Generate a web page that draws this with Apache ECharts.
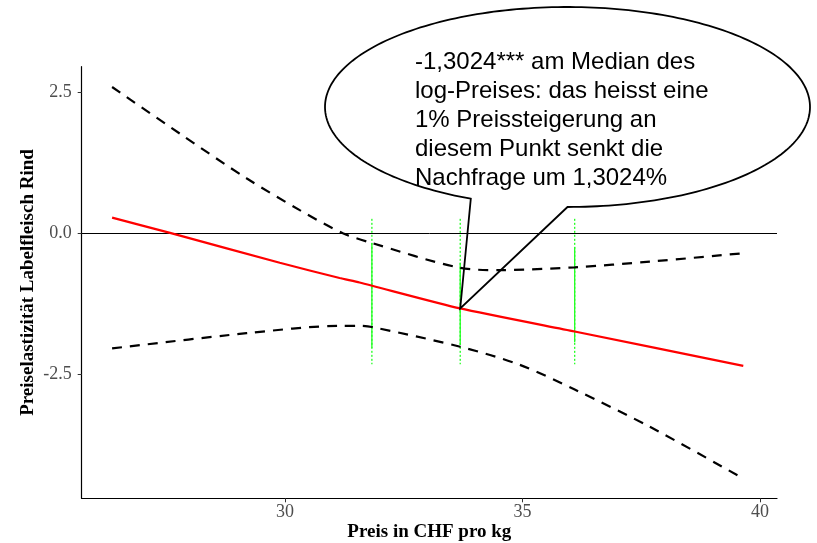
<!DOCTYPE html>
<html><head><meta charset="utf-8">
<script src="https://cdn.jsdelivr.net/npm/echarts@6/dist/echarts.min.js"></script>
<style>html,body{margin:0;padding:0;background:#fff}#c{width:817px;height:543px}</style>
</head><body><div id="c"></div>
<script>
// tick labels
const xTicks = [30, 35, 40];
const yTicks = [-2.5, 0, 2.5];
// fitted elasticity (red line)
const priceFit = [26.36, 27.58, 29.89, 31.15, 31.57, 33.69, 36.10, 39.65];
const elastFit = [0.272, 0, -0.53, -0.80, -0.88, -1.34, -1.75, -2.36];
// upper confidence band
const priceUpper = [26.36, 27.79, 29.19, 30.32, 31.22, 31.83, 33.69, 34.52, 36.10, 37.68, 39.65];
const upper = [2.59, 1.76, 0.97, 0.40, -0.005, -0.18, -0.62, -0.66, -0.61, -0.51, -0.36];
// lower confidence band
const priceLower = [26.36, 29.19, 31.15, 31.57, 31.83, 33.69, 34.94, 36.10, 37.68, 39.65];
const lower = [-2.05, -1.78, -1.65, -1.65, -1.67, -2.02, -2.34, -2.78, -3.44, -4.36];
// quantile markers (green)
const quantPrice = [31.83, 33.69, 36.10];
const quantTop = [0.25, 0.25, 0.25];
const quantBottom = [-2.33, -2.33, -2.33];
const solidTop = [-0.18, -0.53, -0.25];
const solidBottom = [-2.04, -1.99, -1.94];
// callout
const medianPoint = [33.69, -1.34];
const calloutText = '-1,3024*** am Median des\nlog-Preises: das heisst eine\n1% Preissteigerung an\ndiesem Punkt senkt die\nNachfrage um 1,3024%';

const zip = (a, b) => a.map((v, i) => [v, b[i]]);
const serif = '"Liberation Serif", "Times New Roman", serif';

const series = [
  {
    type: 'line', data: zip(priceFit, elastFit), symbol: 'none', smooth: 0.2,
    lineStyle: { color: '#ff0000', width: 2.2 }, z: 5,
    markLine: {
      silent: true, symbol: 'none', label: { show: false },
      lineStyle: { color: '#000', width: 1, type: 'solid' },
      data: [{ yAxis: 0 }]
    }
  },
  { type: 'line', data: zip(priceUpper, upper), symbol: 'none', smooth: 0.3,
    lineStyle: { color: '#000', width: 2.2, type: [10, 8] }, z: 4 },
  { type: 'line', data: zip(priceLower, lower), symbol: 'none', smooth: 0.3,
    lineStyle: { color: '#000', width: 2.2, type: [10, 8] }, z: 4 }
];
quantPrice.forEach((p, i) => {
  series.push({ type: 'line', data: [[p, quantTop[i]], [p, quantBottom[i]]], symbol: 'none',
    lineStyle: { color: '#22ff22', width: 1.3, type: [2, 2] }, z: 3 });
  series.push({ type: 'line', data: [[p, solidTop[i]], [p, solidBottom[i]]], symbol: 'none',
    lineStyle: { color: '#22ff22', width: 1.3, type: 'solid' }, z: 3 });
});

const chart = echarts.init(document.getElementById('c'), null, { renderer: 'canvas' });
chart.setOption({
  animation: false,
  backgroundColor: '#fff',
  grid: { left: 81.7, right: 40, top: 66.7, bottom: 44.7, containLabel: false, outerBoundsMode: 'none' },
  xAxis: {
    type: 'value', min: 25.72, max: 40.36,
    axisLine: { show: true, onZero: false, lineStyle: { color: '#000', width: 1.2 } },
    axisTick: { show: true, customValues: xTicks, length: 4, lineStyle: { color: '#333' } },
    axisLabel: { customValues: xTicks, color: '#4d4d4d', fontFamily: serif, fontSize: 18, margin: 5,
      formatter: v => String(v) },
    splitLine: { show: false },
    name: 'Preis in CHF pro kg', nameLocation: 'middle', nameGap: 24, nameMoveOverlap: false,
    nameTextStyle: { color: '#000', fontFamily: serif, fontWeight: 'bold', fontSize: 19 }
  },
  yAxis: {
    type: 'value', min: -4.71, max: 2.95,
    axisLine: { show: true, onZero: false, lineStyle: { color: '#000', width: 1.2 } },
    axisTick: { show: true, customValues: yTicks, length: 4, lineStyle: { color: '#333' } },
    axisLabel: { customValues: yTicks, color: '#4d4d4d', fontFamily: serif, fontSize: 18, margin: 10,
      formatter: v => v.toFixed(1) },
    splitLine: { show: false },
    name: 'Preiselastizität Labelfleisch Rind', nameLocation: 'middle', nameGap: 44, nameMoveOverlap: false,
    nameTextStyle: { color: '#000', fontFamily: serif, fontWeight: 'bold', fontSize: 19 }
  },
  series: series
});

// speech bubble callout, tail pointing at the median point
(function () {
  const tip = chart.convertToPixel({ gridIndex: 0 }, medianPoint);
  const cx = 567.5, cy = 107, rx = 242.5, ry = 100;
  const a0 = 113.5 * Math.PI / 180, a1 = 450 * Math.PI / 180;
  const pts = [];
  const n = 240;
  for (let i = 0; i <= n; i++) {
    const a = a0 + (a1 - a0) * i / n;
    pts.push([cx + rx * Math.cos(a), cy + ry * Math.sin(a)]);
  }
  pts.push(tip);
  chart.setOption({
    graphic: [
      { type: 'polygon', shape: { points: pts }, silent: true, z: 100,
        style: { fill: 'none', stroke: '#000', lineWidth: 1.8 } },
      { type: 'text', left: 415, top: 48, silent: true, z: 101,
        style: { text: calloutText, fontSize: 24, fontFamily: '"Liberation Sans", Arial, sans-serif',
          fill: '#000', lineHeight: 29 } }
    ]
  });
})();
</script>
</body></html>
